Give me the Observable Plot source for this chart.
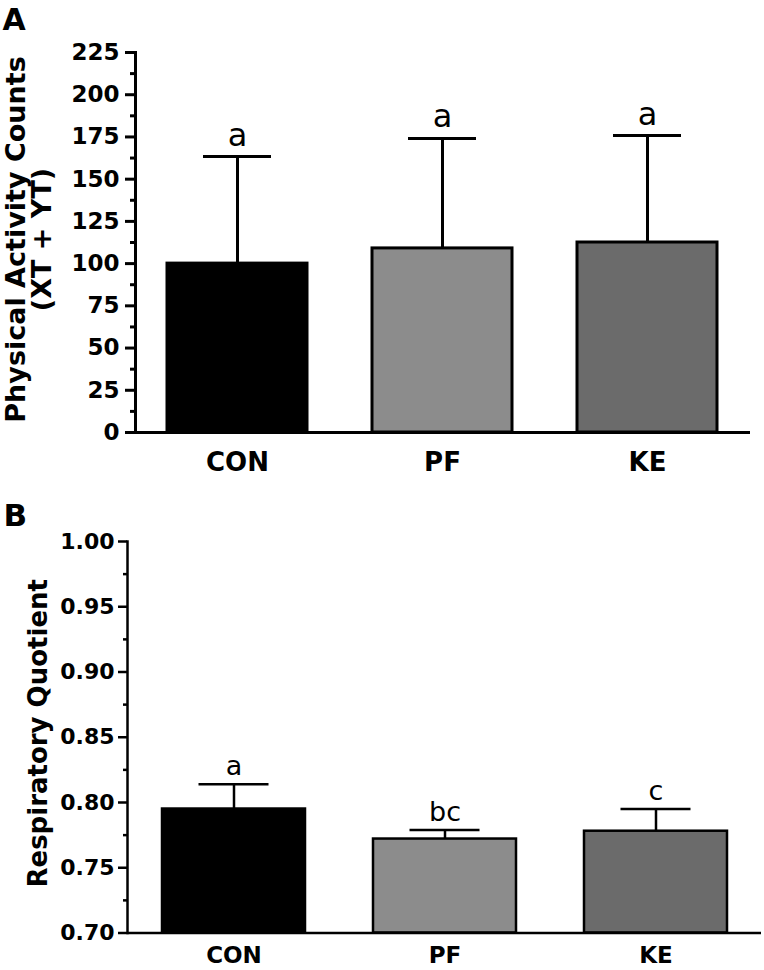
<!DOCTYPE html>
<html><head><meta charset="utf-8">
<script src="https://cdn.jsdelivr.net/npm/d3@7"></script>
<script src="https://cdn.jsdelivr.net/npm/@observablehq/plot@0.6"></script>
<style>
body{margin:0;background:#fff;}
#wrap{width:764px;height:970px;position:relative;background:#fff;}
#wrap svg{display:block;}
</style></head><body><div id="wrap"></div>
<script>
// ---- data ----
const groups = ["CON", "PF", "KE"];
const activityMean = [100, 109, 112.5];
const activitySD = [63.4, 65.1, 63.3];
const activityLetters = ["a", "a", "a"];
const activityTicks = [0, 25, 50, 75, 100, 125, 150, 175, 200, 225];
const activityLabel = "Physical Activity Counts\n(XT + YT)";

const rqMean = [0.795, 0.772, 0.778];
const rqSD = [0.019, 0.007, 0.017];
const rqLetters = ["a", "bc", "c"];
const rqTicks = [0.70, 0.75, 0.80, 0.85, 0.90, 0.95, 1.00];
const rqLabel = "Respiratory Quotient";

// ---- style ----
const fills = ["#000000", "#8c8c8c", "#6b6b6b"];
const font = "'DejaVu Sans', sans-serif";

const mids = t => d3.pairs(t).map(([a, b]) => (a + b) / 2);

function rows(means, sds, letters) {
  return groups.map((g, i) => ({group: g, mean: means[i], upper: means[i] + sds[i], letter: letters[i]}));
}

const rowsA = rows(activityMean, activitySD, activityLetters);
const rowsB = rows(rqMean, rqSD, rqLetters);

const plotA = Plot.plot({
  width: 764, height: 480,
  marginLeft: 135, marginRight: 14, marginTop: 52, marginBottom: 48,
  style: {fontFamily: font, fontWeight: "bold", background: "#fff", color: "#000", overflow: "visible"},
  x: {domain: groups, paddingInner: 0.316, paddingOuter: 0.158, label: null},
  y: {domain: [activityTicks[0], activityTicks[activityTicks.length - 1]], label: null},
  color: {domain: groups, range: fills},
  marks: [
    Plot.barY(rowsA, {x: "group", y: "mean", fill: "group", stroke: "#000", strokeWidth: 3}),
    Plot.ruleX(rowsA, {x: "group", y1: "mean", y2: "upper", strokeWidth: 3}),
    Plot.tickY(rowsA, {x: "group", y: "upper", strokeWidth: 3, insetLeft: 36, insetRight: 36}),
    Plot.text(rowsA, {x: "group", y: "upper", text: "letter", lineAnchor: "bottom", dy: -11, fontSize: 32, fontWeight: "normal"}),
    Plot.axisY(activityTicks, {tickSize: 10, tickPadding: 6, fontSize: 23, strokeWidth: 3, label: null}),
    Plot.axisY(mids(activityTicks), {tickSize: 5, tickFormat: () => "", strokeWidth: 3, label: null}),
    Plot.axisX({tickSize: 0, tickPadding: 20, fontSize: 26, label: null}),
    Plot.frame({anchor: "left", strokeWidth: 3}),
    Plot.ruleY([activityTicks[0]], {strokeWidth: 3}),
    Plot.text([activityLabel], {frameAnchor: "left", text: d => d, rotate: -90, textAnchor: "middle", lineAnchor: "middle", dx: -106, dy: -3, fontSize: 27, lineHeight: 0.96}),
    Plot.text(["A"], {frameAnchor: "top-left", text: d => d, textAnchor: "start", lineAnchor: "bottom", dx: -133, dy: -23, fontSize: 30})
  ]
});

const plotB = Plot.plot({
  width: 764, height: 490,
  marginLeft: 127, marginRight: 3, marginTop: 61, marginBottom: 37.5,
  style: {fontFamily: font, fontWeight: "bold", background: "#fff", color: "#000", overflow: "visible"},
  x: {domain: groups, paddingInner: 0.323, paddingOuter: 0.1615, label: null},
  y: {domain: [rqTicks[0], rqTicks[rqTicks.length - 1]], label: null},
  color: {domain: groups, range: fills},
  marks: [
    Plot.barY(rowsB, {x: "group", y1: () => rqTicks[0], y2: "mean", fill: "group", stroke: "#000", strokeWidth: 2.5}),
    Plot.ruleX(rowsB, {x: "group", y1: "mean", y2: "upper", strokeWidth: 2.5}),
    Plot.tickY(rowsB, {x: "group", y: "upper", strokeWidth: 2.5, insetLeft: 36.5, insetRight: 36.5}),
    Plot.text(rowsB, {x: "group", y: "upper", text: "letter", lineAnchor: "bottom", dy: -9, fontSize: 27, fontWeight: "normal"}),
    Plot.axisY(rqTicks, {tickSize: 9, tickPadding: 4, fontSize: 22, strokeWidth: 2.5, tickFormat: d3.format(".2f"), label: null}),
    Plot.axisY(mids(rqTicks), {tickSize: 4, tickFormat: () => "", strokeWidth: 2.5, label: null}),
    Plot.axisX({tickSize: 0, tickPadding: 14, fontSize: 23, label: null}),
    Plot.frame({anchor: "left", strokeWidth: 2.5}),
    Plot.ruleY([rqTicks[0]], {strokeWidth: 2.5}),
    Plot.text([rqLabel], {frameAnchor: "left", text: d => d, rotate: -90, textAnchor: "middle", lineAnchor: "middle", dx: -89, dy: -4, fontSize: 26}),
    Plot.text(["B"], {frameAnchor: "top-left", text: d => d, textAnchor: "start", lineAnchor: "bottom", dx: -124, dy: -16, fontSize: 31})
  ]
});

const wrap = document.getElementById("wrap");
wrap.appendChild(plotA);
wrap.appendChild(plotB);
</script>
</body></html>
